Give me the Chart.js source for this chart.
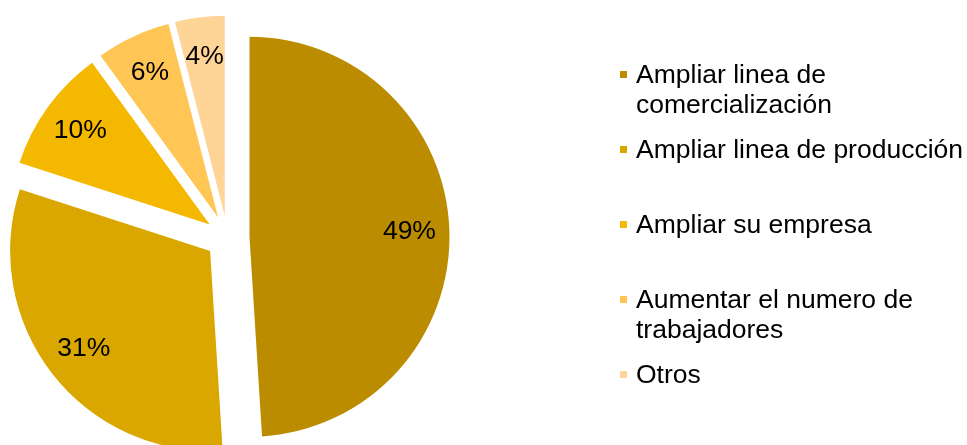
<!DOCTYPE html>
<html>
<head>
<meta charset="utf-8">
<script src="https://cdn.jsdelivr.net/npm/chart.js@4/dist/chart.umd.min.js"></script>
<style>
  html, body { margin: 0; padding: 0; background: #fff; overflow: hidden; }
  #wrap { position: relative; width: 967px; height: 445px; }
  #chart { position: absolute; left: 0; top: 0; }
  .item { position: absolute; left: 620px; font: 26.5px "Liberation Sans", Arial, sans-serif; line-height: 30px; color: #000; }
  .item .box { position: absolute; left: 0; top: 12px; width: 7px; height: 7px; }
  .item .txt { position: absolute; left: 16px; top: 0; width: 340px; }
</style>
</head>
<body>
<div id="wrap">
  <canvas id="chart" width="967" height="445"></canvas>
  <div id="legend"></div>
</div>
<script>
const categories = [
    "Ampliar linea de comercialización",
    "Ampliar linea de producción",
    "Ampliar su empresa",
    "Aumentar el numero de trabajadores",
    "Otros",
];
const shares = [49, 31, 10, 6, 4];
const colors = ["#BC8C00", "#DAA600", "#F5B800", "#FFC655", "#FFD597"];

// top of each legend entry (px)
const legendTops = [59, 134, 209, 284, 359];
const EXPLODE = 22;

// pull every slice out from the centre by the same distance, like an exploded pie
const explodePlugin = {
    id: "explode",
    beforeDatasetsDraw(chart) {
        const area = chart.chartArea;
        const cx = (area.left + area.right) / 2;
        const cy = (area.top + area.bottom) / 2;
        chart.getDatasetMeta(0).data.forEach((arc) => {
            const mid = (arc.startAngle + arc.endAngle) / 2;
            arc.x = cx + Math.cos(mid) * EXPLODE;
            arc.y = cy + Math.sin(mid) * EXPLODE;
        });
    },
};

const pctLabelPlugin = {
    id: "pctLabels",
    afterDatasetsDraw(chart) {
        const { ctx } = chart;
        const values = chart.data.datasets[0].data;
        ctx.save();
        ctx.font = '26.5px "Liberation Sans", Arial, sans-serif';
        ctx.fillStyle = "#000";
        ctx.textAlign = "center";
        ctx.textBaseline = "middle";
        chart.getDatasetMeta(0).data.forEach((arc, i) => {
            const mid = (arc.startAngle + arc.endAngle) / 2;
            const r = arc.outerRadius * 0.8;
            ctx.fillText(values[i] + "%", arc.x + Math.cos(mid) * r, arc.y + Math.sin(mid) * r);
        });
        ctx.restore();
    },
};

new Chart("chart", {
    type: "pie",
    data: {
        labels: categories,
        datasets: [
            {
                data: shares,
                backgroundColor: colors,
                borderWidth: 0,
                radius: 200,
            },
        ],
    },
    options: {
        responsive: false,
        animation: false,
        layout: { padding: { left: 0, top: 30, right: 512, bottom: 0 } },
        plugins: {
            legend: { display: false },
            tooltip: { enabled: false },
        },
    },
    plugins: [explodePlugin, pctLabelPlugin],
});

const legend = document.getElementById("legend");
categories.forEach((name, i) => {
    const item = document.createElement("div");
    item.className = "item";
    item.style.top = legendTops[i] + "px";
    const box = document.createElement("div");
    box.className = "box";
    box.style.background = colors[i];
    const txt = document.createElement("div");
    txt.className = "txt";
    txt.textContent = name;
    item.appendChild(box);
    item.appendChild(txt);
    legend.appendChild(item);
});
</script>
</body>
</html>
